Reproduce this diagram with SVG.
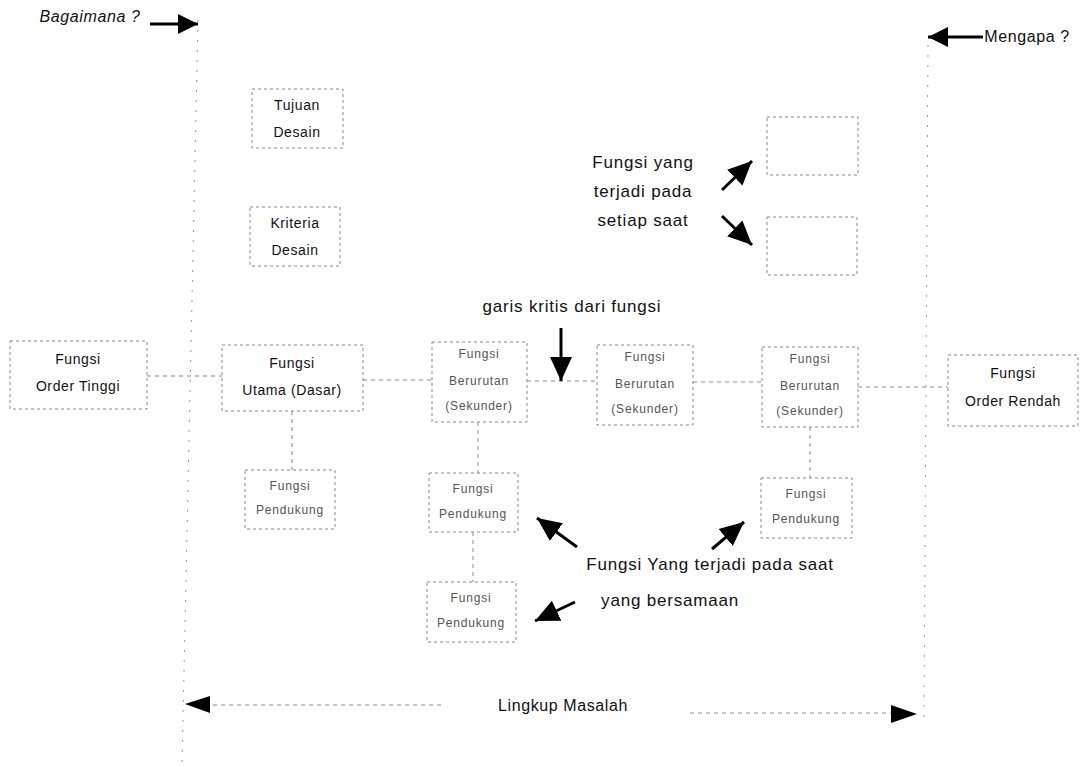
<svg xmlns="http://www.w3.org/2000/svg" width="1081" height="766" viewBox="0 0 1081 766">
<style>
text{font-family:"Liberation Sans","DejaVu Sans",sans-serif;fill:#111;text-anchor:middle}
.lbl{font-size:17px;letter-spacing:0.8px}
.nd{font-size:14px;letter-spacing:0.6px}
.sm{font-size:12px;fill:#555;letter-spacing:0.8px}
.box{fill:#fff;stroke:#888;stroke-width:1;stroke-dasharray:3 3}
.con{fill:none;stroke:#888;stroke-width:1;stroke-dasharray:4 4}
.axis{fill:none;stroke:#999;stroke-width:1;stroke-dasharray:2 8}
.arr{fill:none;stroke:#000;stroke-width:3}
.hd{fill:#000;stroke:none}
</style>
<defs>
<marker id="ah" markerUnits="userSpaceOnUse" markerWidth="26" markerHeight="24" refX="24" refY="12" orient="auto">
<polygon points="0,1 24,12 0,23" fill="#000"/>
</marker>
<marker id="ahs" markerUnits="userSpaceOnUse" markerWidth="22" markerHeight="22" refX="20" refY="11" orient="auto">
<polygon points="0,1 20,11 0,21" fill="#000"/>
</marker>
</defs>
<rect width="1081" height="766" fill="#fff"/>

<g id="connectors">
<line class="axis" x1="198" y1="20" x2="182" y2="766"/>
<line class="axis" x1="928" y1="45" x2="924" y2="722"/>
<line class="con" x1="147" y1="376" x2="222" y2="376"/>
<line class="con" x1="363" y1="380" x2="432" y2="380"/>
<line class="con" x1="527" y1="381" x2="597" y2="381"/>
<line class="con" x1="693" y1="382" x2="762" y2="382"/>
<line class="con" x1="858" y1="387" x2="948" y2="387"/>
<line class="con" x1="292" y1="411" x2="292" y2="470"/>
<line class="con" x1="478" y1="422" x2="478" y2="473"/>
<line class="con" x1="473" y1="532" x2="473" y2="582"/>
<line class="con" x1="810" y1="427" x2="810" y2="478"/>
<line class="con" x1="205" y1="705" x2="445" y2="705"/>
<line class="con" x1="690" y1="713" x2="895" y2="713"/>
<polygon class="hd" points="185,704 210,696 210,713"/>
<polygon class="hd" points="917,714 891,705 891,723"/>
<line class="arr" x1="150" y1="24" x2="198" y2="24" stroke-width="2" marker-end="url(#ahs)"/>
<line class="arr" x1="983" y1="37" x2="928" y2="37" stroke-width="2" marker-end="url(#ahs)"/>
<line class="arr" x1="561" y1="328" x2="561" y2="381" marker-end="url(#ah)"/>
<line class="arr" x1="722" y1="190" x2="752" y2="161" marker-end="url(#ah)"/>
<line class="arr" x1="722" y1="216" x2="752" y2="245" marker-end="url(#ah)"/>
<line class="arr" x1="577" y1="547" x2="537" y2="518" marker-end="url(#ah)"/>
<line class="arr" x1="575" y1="602" x2="535" y2="621" marker-end="url(#ah)"/>
<line class="arr" x1="712" y1="549" x2="744" y2="522" marker-end="url(#ah)"/>
</g>

<g id="labels">
<text class="lbl" x="90" y="22" font-style="italic" style="font-size:16px;letter-spacing:0.6px">Bagaimana ?</text>
<text class="lbl" x="1027" y="42" style="font-size:16px;letter-spacing:0.6px">Mengapa ?</text>
<text class="lbl" x="643" y="168">Fungsi yang</text>
<text class="lbl" x="643" y="197">terjadi pada</text>
<text class="lbl" x="643" y="226">setiap saat</text>
<text class="lbl" x="572" y="312">garis kritis dari fungsi</text>
<text class="lbl" x="710" y="570">Fungsi Yang terjadi pada saat</text>
<text class="lbl" x="670" y="606">yang bersamaan</text>
<text class="lbl" x="563" y="711" style="font-size:16px;letter-spacing:0.6px">Lingkup Masalah</text>
</g>

<g id="n-tujuan"><rect class="box" x="252" y="89" width="91" height="59"/>
<text class="nd" x="297" y="110">Tujuan</text><text class="nd" x="297" y="137">Desain</text></g>
<g id="n-kriteria"><rect class="box" x="250" y="207" width="90" height="59"/>
<text class="nd" x="295" y="228">Kriteria</text><text class="nd" x="295" y="255">Desain</text></g>
<g id="n-empty1"><rect class="box" x="767" y="117" width="91" height="58"/></g>
<g id="n-empty2"><rect class="box" x="767" y="217" width="90" height="58"/></g>
<g id="n-tinggi"><rect class="box" x="10" y="341" width="137" height="68"/>
<text class="nd" x="78" y="364">Fungsi</text><text class="nd" x="78" y="391">Order Tinggi</text></g>
<g id="n-utama"><rect class="box" x="222" y="345" width="141" height="66"/>
<text class="nd" x="292" y="368">Fungsi</text><text class="nd" x="292" y="395">Utama (Dasar)</text></g>
<g id="n-ber1"><rect class="box" x="432" y="342" width="95" height="80"/>
<text class="sm" x="479" y="358">Fungsi</text><text class="sm" x="479" y="385">Berurutan</text><text class="sm" x="479" y="410">(Sekunder)</text></g>
<g id="n-ber2"><rect class="box" x="597" y="345" width="96" height="80"/>
<text class="sm" x="645" y="361">Fungsi</text><text class="sm" x="645" y="388">Berurutan</text><text class="sm" x="645" y="413">(Sekunder)</text></g>
<g id="n-ber3"><rect class="box" x="762" y="347" width="96" height="80"/>
<text class="sm" x="810" y="363">Fungsi</text><text class="sm" x="810" y="390">Berurutan</text><text class="sm" x="810" y="415">(Sekunder)</text></g>
<g id="n-rendah"><rect class="box" x="948" y="355" width="130" height="71"/>
<text class="nd" x="1013" y="378">Fungsi</text><text class="nd" x="1013" y="406">Order Rendah</text></g>
<g id="n-pend1"><rect class="box" x="245" y="470" width="90" height="59"/>
<text class="sm" x="290" y="490">Fungsi</text><text class="sm" x="290" y="514">Pendukung</text></g>
<g id="n-pend2"><rect class="box" x="429" y="473" width="89" height="59"/>
<text class="sm" x="473" y="493">Fungsi</text><text class="sm" x="473" y="518">Pendukung</text></g>
<g id="n-pend3"><rect class="box" x="427" y="582" width="89" height="60"/>
<text class="sm" x="471" y="602">Fungsi</text><text class="sm" x="471" y="627">Pendukung</text></g>
<g id="n-pend4"><rect class="box" x="761" y="478" width="91" height="60"/>
<text class="sm" x="806" y="498">Fungsi</text><text class="sm" x="806" y="523">Pendukung</text></g>
</svg>
